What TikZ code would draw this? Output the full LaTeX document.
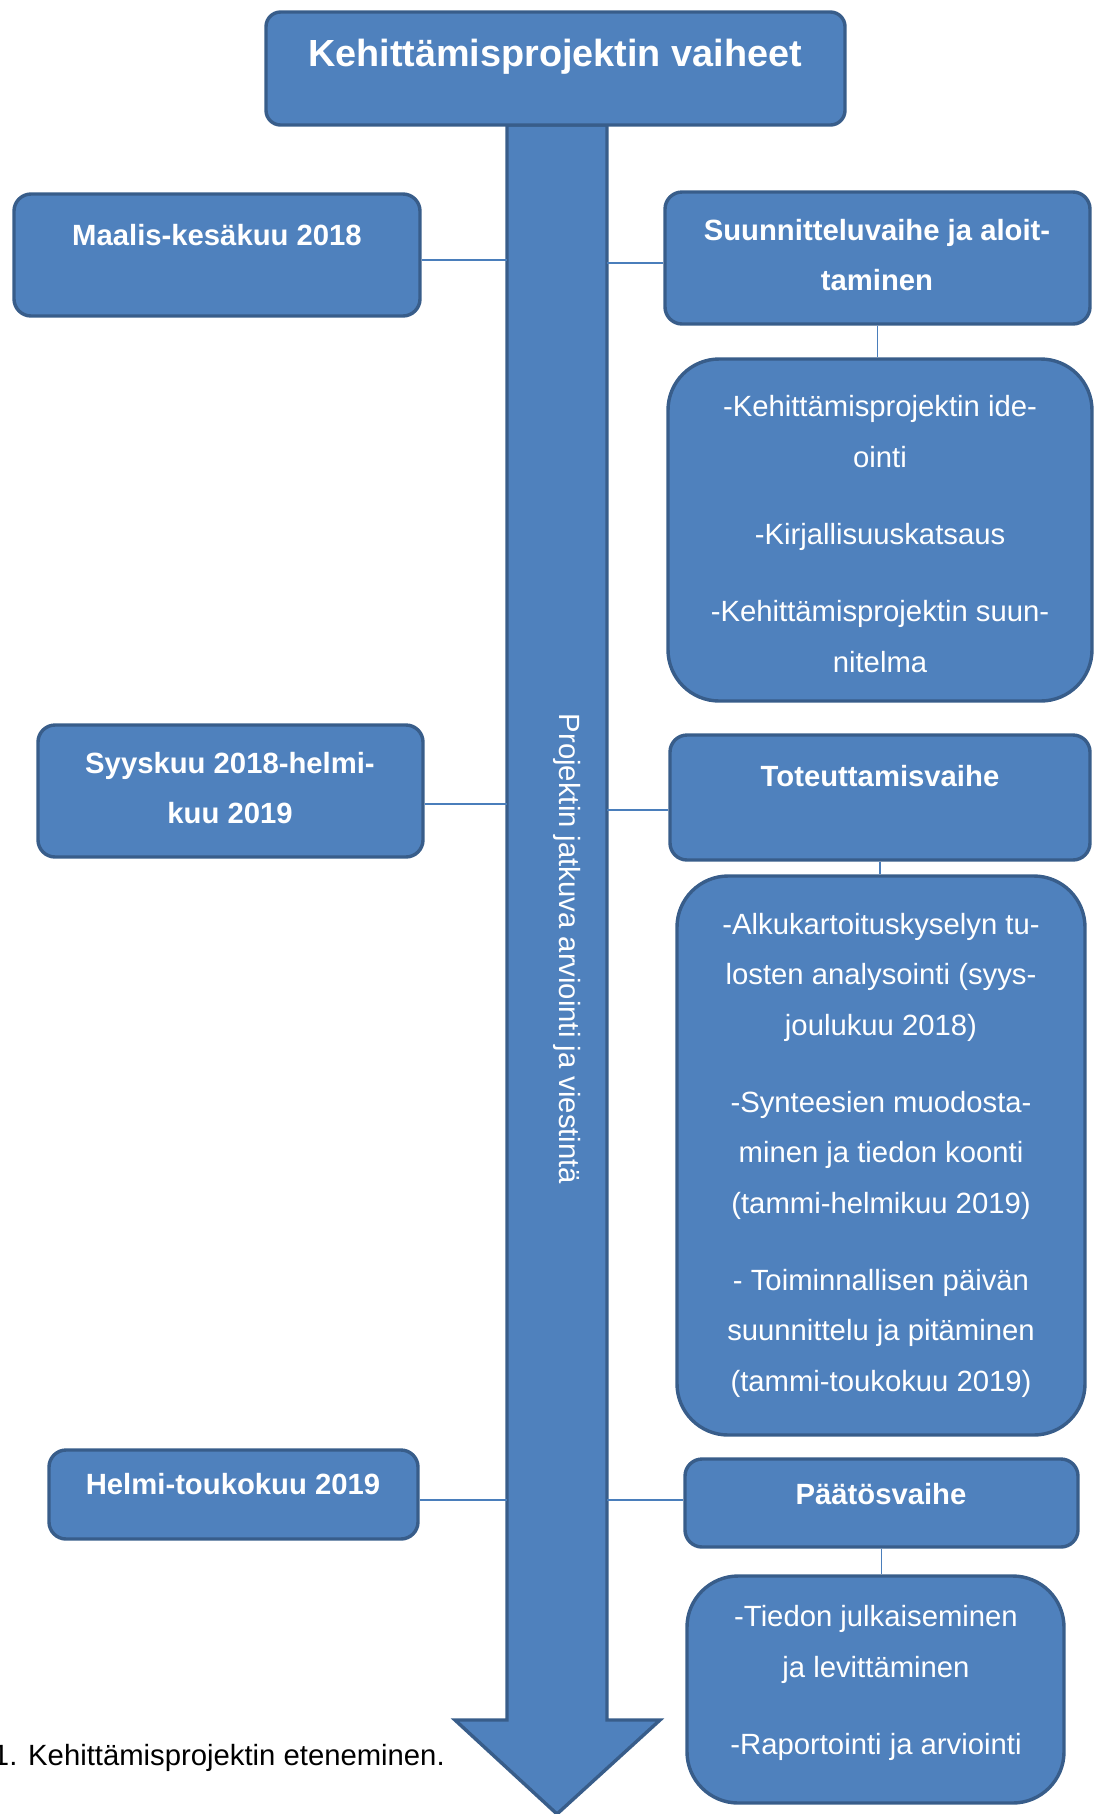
\documentclass[tikz,border=0pt]{standalone}
\usepackage{fontspec}
\setmainfont{Liberation Sans}
\usetikzlibrary{fit}

\definecolor{boxblue}{HTML}{4F81BD}
\definecolor{boxedge}{HTML}{385D8A}
\definecolor{linkblue}{HTML}{4A7EBB}

\tikzset{
  phase/.style={draw=boxedge, fill=boxblue, line width=1.4pt, rounded corners=7pt, inner sep=0pt},
  taskbox/.style={phase, rounded corners=21pt},
  link/.style={draw=linkblue, line width=0.6pt},
  headtext/.style={text=white, inner sep=0pt, align=center, font=\bfseries\fontsize{12}{20.7}\selectfont},
  bodytext/.style={text=white, inner sep=0pt, align=center, font=\fontsize{12}{20.7}\selectfont},
}

\begin{document}
\begin{tikzpicture}[x=0.41pt, y=-0.41pt]
  \useasboundingbox (0,0) rectangle (1098,1814);

  % the big arrow down the middle
  \draw[phase, rounded corners=0pt]
        (507,125)  % top left
     -- (507,1720)
     -- (455,1720)
     -- (557,1814) % tip
     -- (660,1720)
     -- (607,1720)
     -- (607,125)  % top right
     -- cycle;
  \coordinate (shaftL) at (507,0);
  \coordinate (shaftR) at (607,0);
  \node[bodytext, rotate=-90] (flow) at (567,949) {Projektin jatkuva arviointi ja viestintä};

  % title
  \node[phase, rounded corners=6pt, fit={(266,12) (845,125)}] (title) {};
  \node[headtext, font=\bfseries\fontsize{15.5}{18}\selectfont] (titletext) at (555,57) {Kehittämisprojektin vaiheet};

  % time boxes on the left
  \node[phase, fit={(14,194) (420,316)}] (time1) {};
  \node[headtext] (time1text) at (217,235) {Maalis-kesäkuu 2018};
  \node[phase, fit={(38,725) (423,857)}] (time2) {};
  \node[headtext] (time2text) at (230,788) {Syyskuu 2018-helmi-\\kuu 2019};
  \node[phase, fit={(49,1450) (418,1539)}] (time3) {};
  \node[headtext] (time3text) at (233,1484) {Helmi-toukokuu 2019};

  % phases on the right
  \node[phase, fit={(665,192) (1090,324)}] (phase1) {};
  \node[headtext] (phase1text) at (877,255) {Suunnitteluvaihe ja aloit-\\taminen};
  \node[phase, fit={(670,735) (1090,860)}] (phase2) {};
  \node[headtext] (phase2text) at (880,776) {Toteuttamisvaihe};
  \node[phase, fit={(685,1459) (1078,1547)}] (phase3) {};
  \node[headtext] (phase3text) at (881,1494) {Päätösvaihe};

  % tasks
  \node[taskbox, fit={(668,359) (1092,701)}] (task1) {};
  \node[bodytext] (task1text) at (880,534)
    {-Kehittämisprojektin ide-\\ointi\\[10.9pt]
     -Kirjallisuuskatsaus\\[10.9pt]
     -Kehittämisprojektin suun-\\nitelma};
  \node[taskbox, fit={(677,876) (1085,1435)}] (task2) {};
  \node[bodytext] (task2text) at (881,1155)
    {-Alkukartoituskyselyn tu-\\losten analysointi (syys-\\joulukuu 2018)\\[10.9pt]
     -Synteesien muodosta-\\minen ja tiedon koonti\\(tammi-helmikuu 2019)\\[10.9pt]
     - Toiminnallisen päivän\\suunnittelu ja pitäminen\\(tammi-toukokuu 2019)};
  \node[taskbox, fit={(687,1576) (1064,1803)}] (task3) {};
  \node[bodytext] (task3text) at (876,1683)
    {-Tiedon julkaiseminen\\ja levittäminen\\[10.9pt]
     -Raportointi ja arviointi};

  % connectors (they sit a little below the box middles)
  \draw[link] ([yshift=-2.1pt]time1.east) -- ([yshift=-2.1pt]time1.east -| shaftL);
  \draw[link] ([yshift=-5.3pt]time2.east) -- ([yshift=-5.3pt]time2.east -| shaftL);
  \draw[link] ([yshift=-2.3pt]time3.east) -- ([yshift=-2.3pt]time3.east -| shaftL);
  \draw[link] ([yshift=-2.1pt]phase1.west) -- ([yshift=-2.1pt]phase1.west -| shaftR);
  \draw[link] ([yshift=-5.1pt]phase2.west) -- ([yshift=-5.1pt]phase2.west -| shaftR);
  \draw[link] ([yshift=1.2pt]phase3.west) -- ([yshift=1.2pt]phase3.west -| shaftR);
  \draw[link] (phase1.south) -- (phase1.south |- task1.north);
  \draw[link] (phase2.south) -- (phase2.south |- task2.north);
  \draw[link] (phase3.south) -- (phase3.south |- task3.north);

  \node[anchor=base west, inner sep=0pt, font=\fontsize{12}{14}\selectfont] (caption) at (-7.5,1765)
    {1. Kehittämisprojektin eteneminen.};
\end{tikzpicture}
\end{document}
